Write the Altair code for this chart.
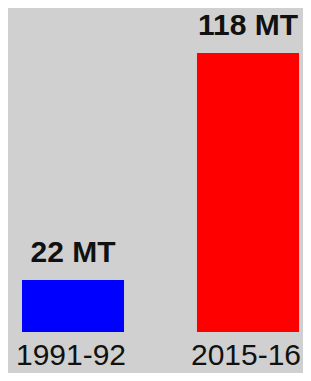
import altair as alt
import pandas as pd

years = ["1991-92", "2015-16"]
values = [22, 118]
labels = ["22 MT", "118 MT"]
colors = ["#0000ff", "#ff0000"]

df = pd.DataFrame({"year": years, "value": values, "label": labels, "color": colors})

x = alt.X("year:N", sort=years, title=None,
          scale=alt.Scale(paddingInner=0.417, paddingOuter=0.0514, align=0.778),
          axis=alt.Axis(labelAngle=0, labelFontSize=30, labelFont="Liberation Sans",
                        labelColor="#111111", labelPadding=8, labelOffset=-2,
                        ticks=False, tickSize=0, domain=False, grid=False))
y = alt.Y("value:Q", scale=alt.Scale(domain=[0, 137], nice=False), axis=None)

bars = alt.Chart(df).mark_bar().encode(x=x, y=y, color=alt.Color("color:N", scale=None))
text = alt.Chart(df).mark_text(baseline="alphabetic", dy=-18, fontSize=30, fontWeight="bold",
                               font="Liberation Sans", color="#111111").encode(
    x=alt.X("year:N", sort=years), y=y, text="label:N")

chart = alt.layer(bars, text).properties(
    width=295, height=324,
    autosize=alt.AutoSizeParams(type="none"),
    padding={"left": 0, "top": 0, "right": 0, "bottom": 41},
    background="#d0d0d0",
).configure_view(stroke=None)

chart.save("out.html", embed_options={"renderer": "svg", "actions": False})
